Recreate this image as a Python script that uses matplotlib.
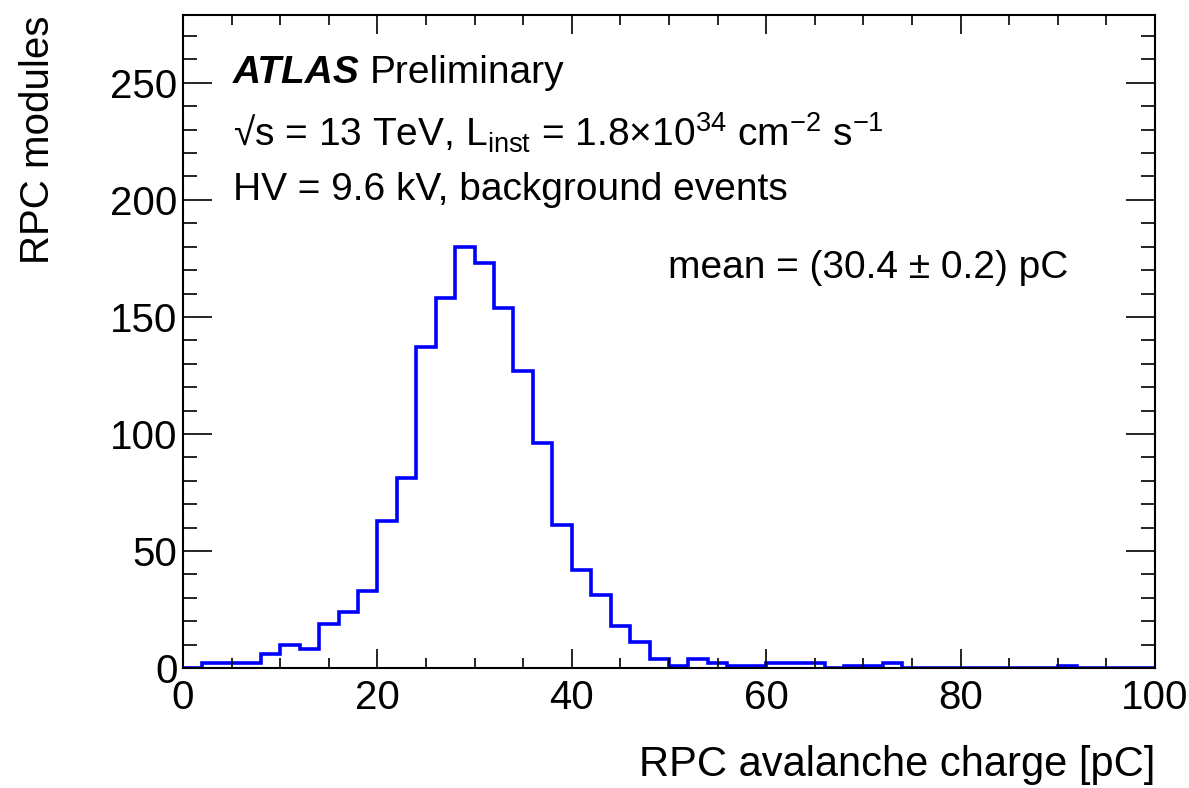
import matplotlib
matplotlib.use("Agg")
import matplotlib.pyplot as plt
import numpy as np
from matplotlib.ticker import MultipleLocator

plt.rcParams['font.family'] = ['Liberation Sans', 'DejaVu Sans']
plt.rcParams['mathtext.fontset'] = 'custom'
plt.rcParams['mathtext.rm'] = 'Liberation Sans'
plt.rcParams['mathtext.it'] = 'Liberation Sans:italic'
plt.rcParams['mathtext.bf'] = 'Liberation Sans:bold'

# Histogram data: 2 pC bins from 0 to 100
bin_edges = list(range(0, 102, 2))
counts = [0, 2, 2, 2, 6, 10, 8, 19, 24, 33,
          63, 81, 137, 158, 180, 173, 154, 127, 96, 61,
          42, 31, 18, 11, 4, 1, 4, 2, 1, 1,
          2, 2, 2, 0, 1, 1, 2, 0, 0, 0,
          0, 0, 0, 0, 0, 1, 0, 0, 0, 0]

fig = plt.figure(figsize=(11.89, 7.88), dpi=100)
ax = fig.add_axes([183/1189, 1-668/788, (1155-183)/1189, (668-15)/788])

ax.stairs(counts, bin_edges, color='#0000ff', linewidth=2.6, baseline=0)

ax.set_xlim(0, 100)
ax.set_ylim(0, 279)

ax.xaxis.set_major_locator(MultipleLocator(20))
ax.xaxis.set_minor_locator(MultipleLocator(5))
ax.yaxis.set_major_locator(MultipleLocator(50))
ax.yaxis.set_minor_locator(MultipleLocator(10))

ax.tick_params(axis='both', which='both', direction='in', top=True, right=True,
               labelsize=29, width=1.2, color='black')
ax.tick_params(axis='x', which='major', length=14, pad=8)
ax.tick_params(axis='x', which='minor', length=7)
ax.tick_params(axis='y', which='major', length=21, pad=4)
ax.tick_params(axis='y', which='minor', length=10)
for s in ax.spines.values():
    s.set_linewidth(1.5)

ax.set_xlabel('RPC avalanche charge [pC]', fontsize=30, loc='right', labelpad=20)
ax.set_ylabel('RPC modules', fontsize=29, loc='top', labelpad=38)

ts = 28
ax.text(0.0514, 0.911, 'ATLAS', transform=ax.transAxes, fontsize=ts,
        fontweight='bold', fontstyle='italic', va='center', ha='left')
ax.text(0.1924, 0.911, 'Preliminary', transform=ax.transAxes, fontsize=ts,
        va='center', ha='left')
ax.text(0.0514, 0.819,
        r'√s = 13 TeV, L$_{\mathregular{inst}}$ = 1.8×10$^{\mathregular{34}}$ cm$^{\mathregular{-2}}$ s$^{\mathregular{-1}}$',
        transform=ax.transAxes, fontsize=ts, va='center', ha='left')
ax.text(0.0514, 0.732, 'HV = 9.6 kV, background events', transform=ax.transAxes,
        fontsize=ts, va='center', ha='left')
ax.text(0.499, 0.6125, 'mean = (30.4 ± 0.2) pC', transform=ax.transAxes,
        fontsize=ts, va='center', ha='left')

fig.savefig('out.png', dpi=100)
